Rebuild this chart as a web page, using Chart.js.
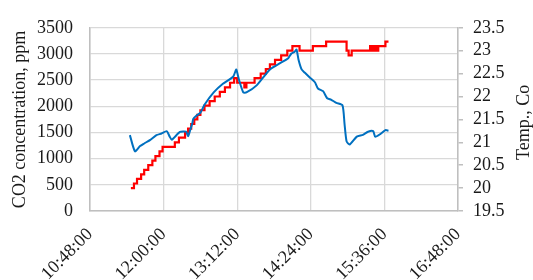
<!DOCTYPE html>
<html lang="en">
<head>
    <meta charset="UTF-8">
    <title>CO2 and temperature</title>
    <script src="https://cdn.jsdelivr.net/npm/chart.js"></script>
    <style>
        body { margin: 0; padding: 0; background: #fff; }
        #wrap { width: 533px; height: 280px; }
    </style>
</head>
<body>
    <div id="wrap"><canvas id="chart" width="533" height="280"></canvas></div>

    <script>
        // time = minutes since midnight
        const xTickValues = [648, 720, 792, 864, 936, 1008];
        const xTickLabels = ['10:48:00', '12:00:00', '13:12:00', '14:24:00', '15:36:00', '16:48:00'];

        // CO2 concentration, ppm (blue, left axis)
        const co2Times = [687, 692, 697, 701, 707, 713, 718, 723, 726, 728, 736, 742, 744, 746, 748, 749, 752, 756, 760,
            769, 778, 788, 791, 792, 794, 798, 801, 811, 824, 834, 842, 845, 848, 850, 852, 855, 858, 863, 868, 871,
            876, 880, 884, 889, 895, 897, 899, 902, 909, 915, 920, 925, 927, 932, 937, 940];
        const co2Values = [1450, 1140, 1240, 1290, 1360, 1450, 1480, 1525, 1420, 1360, 1510, 1515, 1430, 1545, 1665, 1760, 1820, 1880, 2030,
            2265, 2430, 2565, 2705, 2645, 2490, 2265, 2265, 2400, 2705, 2825, 2920, 3010, 3040, 3085, 2890, 2705, 2645, 2550, 2460, 2340,
            2290, 2155, 2125, 2065, 2020, 1665, 1330, 1270, 1420, 1455, 1515, 1525, 1420, 1470, 1545, 1535];

        // Temperature, C (red, right axis)
        const tempTimes = [688, 691, 694, 698, 701, 705, 709, 712, 716, 719, 731, 735, 741, 744, 747, 750, 753, 756, 760,
            765, 770, 775, 780, 785, 789, 792, 799, 801, 809, 815, 820, 824, 829, 835, 841, 846, 853, 866, 879, 899,
            901, 904, 922, 924, 926, 928, 930, 937, 940];
        const tempValues = [20.0, 20.1, 20.2, 20.3, 20.4, 20.5, 20.6, 20.7, 20.8, 20.9, 21.0, 21.1, 21.2, 21.3, 21.4, 21.5, 21.6, 21.7, 21.8,
            21.9, 22.0, 22.1, 22.2, 22.3, 22.4, 22.3, 22.2, 22.3, 22.4, 22.5, 22.6, 22.7, 22.8, 22.9, 23.0, 23.1, 23.0, 23.1, 23.2, 23.0,
            22.9, 23.0, 23.1, 23.0, 23.1, 23.0, 23.1, 23.2, 23.2];

        const fontFamily = '"Liberation Serif", "Times New Roman", serif';
        const textColor = '#1a1a1a';

        const co2Data = co2Times.map((t, i) => ({ x: t, y: co2Values[i] }));
        const tempData = tempTimes.map((t, i) => ({ x: t, y: tempValues[i] }));

        // right axis title reads bottom-to-top, like the left one
        const rightTitle = {
            id: 'rightTitle',
            afterDraw(chart) {
                const ctx = chart.ctx;
                const area = chart.chartArea;
                ctx.save();
                ctx.translate(524, (area.top + area.bottom) / 2 + 3);
                ctx.rotate(-Math.PI / 2);
                ctx.font = '18px ' + fontFamily;
                ctx.fillStyle = textColor;
                ctx.textAlign = 'center';
                ctx.textBaseline = 'middle';
                ctx.fillText('Temp., Co', 0, 0);
                ctx.restore();
            }
        };

        new Chart(document.getElementById('chart').getContext('2d'), {
            type: 'line',
            data: {
                datasets: [{
                    label: 'CO2',
                    data: co2Data,
                    yAxisID: 'y',
                    borderColor: '#0070C0',
                    borderWidth: 2,
                    pointRadius: 0,
                    tension: 0.2
                }, {
                    label: 'Temp',
                    data: tempData,
                    yAxisID: 'y1',
                    borderColor: '#FF0000',
                    borderWidth: 2.2,
                    pointRadius: 0,
                    stepped: 'before'
                }]
            },
            options: {
                responsive: false,
                animation: false,
                layout: { padding: { top: 8, right: 0, left: 0, bottom: 0 } },
                plugins: { legend: { display: false }, tooltip: { enabled: false } },
                scales: {
                    x: {
                        type: 'linear',
                        min: 648,
                        max: 1008,
                        afterBuildTicks: (axis) => { axis.ticks = xTickValues.map(v => ({ value: v })); },
                        afterFit: (axis) => { axis.height = 69; },
                        grid: { color: '#d9d9d9', lineWidth: 1.3, drawTicks: false },
                        border: { color: '#bfbfbf', width: 1.5 },
                        ticks: {
                            autoSkip: false,
                            maxRotation: 45,
                            minRotation: 45,
                            padding: 13,
                            color: textColor,
                            font: { family: fontFamily, size: 18 },
                            callback: (v) => xTickLabels[xTickValues.indexOf(v)]
                        }
                    },
                    y: {
                        position: 'left',
                        min: 0,
                        max: 3500,
                        afterFit: (axis) => { axis.width = 90; },
                        ticks: {
                            stepSize: 500,
                            autoSkip: false,
                            padding: 17,
                            color: textColor,
                            font: { family: fontFamily, size: 18 },
                            callback: (v) => String(v)
                        },
                        grid: { color: '#d9d9d9', lineWidth: 1.3, drawTicks: false },
                        border: { color: '#bfbfbf', width: 1.5 },
                        title: {
                            display: true,
                            text: 'CO2 concentration, ppm',
                            color: textColor,
                            font: { family: fontFamily, size: 18 },
                            padding: { top: 9, bottom: 2 }
                        }
                    },
                    y1: {
                        position: 'right',
                        min: 19.5,
                        max: 23.5,
                        afterFit: (axis) => { axis.width = 75; },
                        ticks: {
                            stepSize: 0.5,
                            autoSkip: false,
                            padding: 10,
                            color: textColor,
                            font: { family: fontFamily, size: 18 },
                            callback: (v) => String(v)
                        },
                        grid: { drawOnChartArea: false, color: '#bfbfbf', lineWidth: 1.5, drawTicks: true, tickLength: 5 },
                        border: { color: '#bfbfbf', width: 1.5 }
                    }
                }
            },
            plugins: [rightTitle]
        });
    </script>
</body>
</html>
